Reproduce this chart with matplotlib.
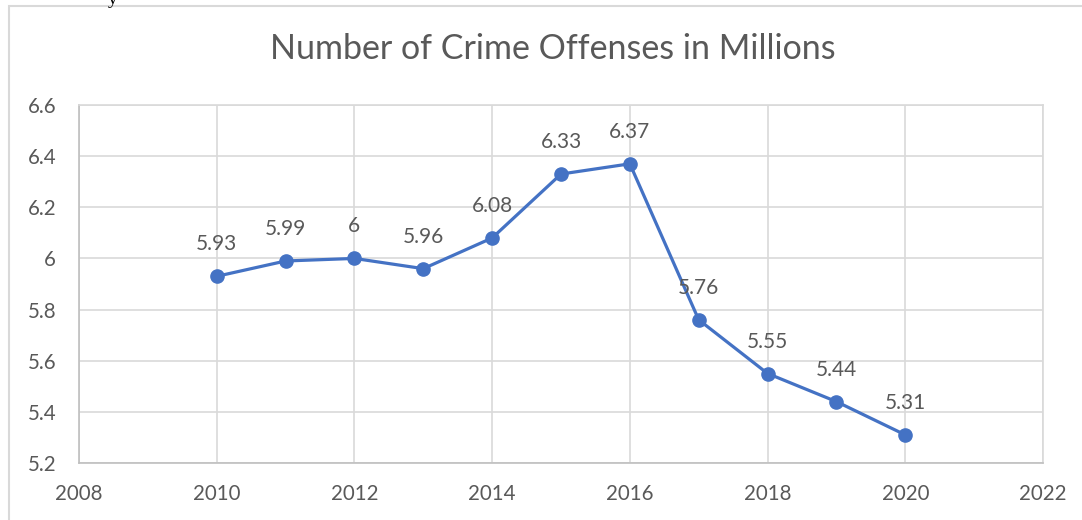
import matplotlib
matplotlib.use("Agg")
import matplotlib.pyplot as plt
from matplotlib.patches import Rectangle

years = [2010, 2011, 2012, 2013, 2014, 2015, 2016, 2017, 2018, 2019, 2020]
offenses = [5.93, 5.99, 6.00, 5.96, 6.08, 6.33, 6.37, 5.76, 5.55, 5.44, 5.31]
labels = ["5.93", "5.99", "6", "5.96", "6.08", "6.33", "6.37", "5.76", "5.55", "5.44", "5.31"]
title = "Number of Crime Offenses in Millions"

plt.rcParams['font.family'] = ['Lato', 'DejaVu Sans']
txt = '#595959'
grid = '#D9D9D9'
blue = '#4472C4'

fig = plt.figure(figsize=(10.82, 5.2), dpi=100)
# chart frame
fig.patches.append(Rectangle((9/1082, -0.1), 1.2, (520-6)/520 + 0.1, transform=fig.transFigure,
                             fill=False, edgecolor='#D9D9D9', linewidth=1.5))
fig.text(113/1082, 1.0, 'y', fontsize=14, family='Liberation Serif', color='black', ha='center', va='center')

ax = fig.add_axes([79/1082, 1 - 463/520, (1043-79)/1082, (463-105)/520])
ax.plot(years, offenses, color=blue, linewidth=2.3, marker='o', markersize=9.5, zorder=3, clip_on=False)
for x, y, l in zip(years, offenses, labels):
    ax.annotate(l, (x, y), xytext=(0, 23), textcoords='offset points', ha='center', va='center',
                fontsize=15, color=txt)

ax.set_xlim(2008, 2022)
ax.set_ylim(5.2, 6.6)
ax.set_xticks(range(2008, 2023, 2))
ax.set_yticks([5.2, 5.4, 5.6, 5.8, 6.0, 6.2, 6.4, 6.6])
ax.set_yticklabels(["5.2", "5.4", "5.6", "5.8", "6", "6.2", "6.4", "6.6"])
ax.grid(True, color=grid, linewidth=1.2)
ax.set_axisbelow(True)
for s in ['top', 'right']:
    ax.spines[s].set_color(grid)
    ax.spines[s].set_linewidth(1.2)
for s in ['left', 'bottom']:
    ax.spines[s].set_color('#BFBFBF')
    ax.spines[s].set_linewidth(1.2)
ax.tick_params(length=0, labelsize=14.8, labelcolor=txt)
ax.tick_params(axis='x', pad=15)
ax.tick_params(axis='y', pad=16.5)

fig.text(553/1082, 1 - 49/520, title, fontsize=24.5, color=txt, ha='center', va='center')

fig.savefig('out.png', dpi=100)
